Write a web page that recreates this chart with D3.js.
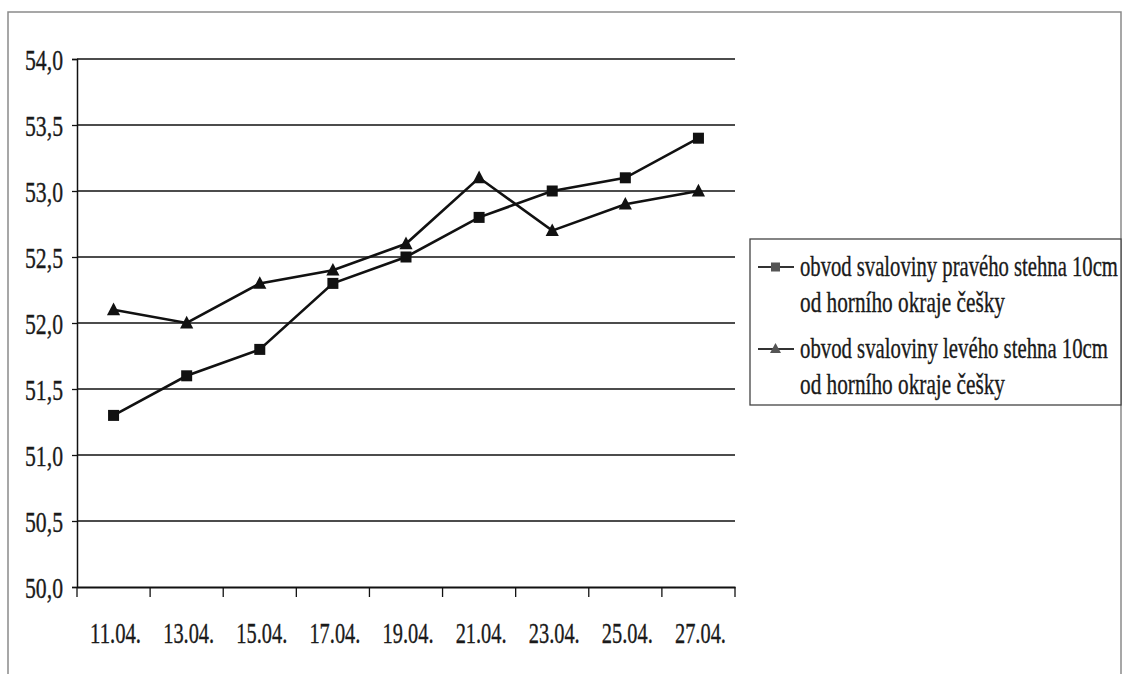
<!DOCTYPE html>
<html><head><meta charset="utf-8">
<script src="https://cdn.jsdelivr.net/npm/d3@7/dist/d3.min.js"></script>
<style>body{margin:0;background:#fff}svg{display:block}</style>
</head><body>
<script>
const categories = ["11.04.","13.04.","15.04.","17.04.","19.04.","21.04.","23.04.","25.04.","27.04."];
const rightThigh = [51.3,51.6,51.8,52.3,52.5,52.8,53.0,53.1,53.4];
const leftThigh  = [52.1,52.0,52.3,52.4,52.6,53.1,52.7,52.9,53.0];
const yTicks = [50.0,50.5,51.0,51.5,52.0,52.5,53.0,53.5,54.0];
const legendLines = [
  ["obvod svaloviny pravého stehna 10cm","od horního okraje češky"],
  ["obvod svaloviny levého stehna 10cm","od horního okraje češky"]
];

const FONT='"Liberation Serif","DejaVu Serif","Times New Roman",serif';
const W=1123,H=674;
const svg=d3.select("body").append("svg").attr("width",W).attr("height",H);
svg.append("rect").attr("x",8).attr("y",12).attr("width",1113).attr("height",700)
  .attr("fill","none").attr("stroke","#8a8a8a").attr("stroke-width",1.5);

const x=d3.scaleBand().domain(categories).range([77,735]);
const y=d3.scaleLinear().domain([50,54]).range([587,59]);
const fmt=d=>d3.format(".1f")(d).replace(".",",");

function fit(t,ax,ay,target,anchor,fs){
  t.style("font-family",FONT).style("font-size",fs+"px").attr("fill","#1a1a1a")
   .attr("stroke","#1a1a1a").attr("stroke-width",0.35)
   .attr("x",0).attr("y",0).attr("dy",null).attr("text-anchor",anchor);
  const w=t.node().getComputedTextLength();
  const s=Math.min(1,target/w);
  t.attr("transform",`translate(${ax},${ay}) scale(${s},1)`);
}

svg.append("g").selectAll("line").data(yTicks.slice(1)).join("line")
  .attr("x1",77).attr("x2",735).attr("y1",d=>y(d)).attr("y2",d=>y(d))
  .attr("stroke","#111").attr("stroke-width",1.3);

const ya=svg.append("g").attr("transform","translate(77,0)")
  .call(d3.axisLeft(y).tickValues(yTicks).tickFormat(fmt).tickSize(5).tickPadding(8));
ya.select(".domain").attr("stroke","#111").attr("stroke-width",1.5);
ya.selectAll(".tick line").attr("stroke","#111").attr("stroke-width",1.3);
ya.selectAll("text").each(function(){fit(d3.select(this),-14,10,38,"end",30);});

const xa=svg.append("g").attr("transform","translate(0,587)")
  .call(d3.axisBottom(x).tickSize(0).tickPadding(0));
xa.select(".domain").attr("stroke","#111").attr("stroke-width",1.8);
xa.selectAll("text").each(function(){fit(d3.select(this),2,56,51,"middle",30);});
const bounds=categories.map(c=>x(c)).concat([x.range()[1]]);
svg.append("g").selectAll("line").data(bounds).join("line")
  .attr("x1",d=>d).attr("x2",d=>d).attr("y1",587).attr("y2",597)
  .attr("stroke","#111").attr("stroke-width",1.3);

const cx=c=>x(c)+x.bandwidth()/2;
const line=d3.line().x((d,i)=>cx(categories[i])).y(d=>y(d));
function square(g,px,py,s){g.append("rect").attr("x",px-s/2).attr("y",py-s/2).attr("width",s).attr("height",s).attr("fill","#111");}
function tri(g,px,py,s){g.append("path").attr("d",`M${px},${py-s*0.6}L${px+s*0.55},${py+s*0.45}L${px-s*0.55},${py+s*0.45}Z`).attr("fill","#111");}

svg.append("path").datum(leftThigh).attr("d",line).attr("fill","none").attr("stroke","#111").attr("stroke-width",2.6);
svg.append("path").datum(rightThigh).attr("d",line).attr("fill","none").attr("stroke","#111").attr("stroke-width",2.6);
const mk=svg.append("g");
rightThigh.forEach((v,i)=>square(mk,cx(categories[i]),y(v),11));
leftThigh.forEach((v,i)=>tri(mk,cx(categories[i]),y(v),12));

const lg=svg.append("g");
lg.append("rect").attr("x",750).attr("y",239).attr("width",371).attr("height",166)
  .attr("fill","#fff").attr("stroke","#444").attr("stroke-width",1.3);
const legY=[267,349];
const widths=[[318,205],[308,205]];
legY.forEach((ly,k)=>{
  lg.append("line").attr("x1",758).attr("x2",794).attr("y1",ly).attr("y2",ly).attr("stroke","#333").attr("stroke-width",2.2);
  if(k===0){lg.append("rect").attr("x",771).attr("y",ly-4.5).attr("width",9).attr("height",9).attr("fill","#555");}
  else{lg.append("path").attr("d",`M775.5,${ly-6}L781,${ly+4}L770,${ly+4}Z`).attr("fill","#555");}
  legendLines[k].forEach((t,j)=>{
    const tx=lg.append("text").text(t);
    fit(tx,800,ly+9+j*36,widths[k][j],"start",30);
  });
});
</script>
</body></html>
